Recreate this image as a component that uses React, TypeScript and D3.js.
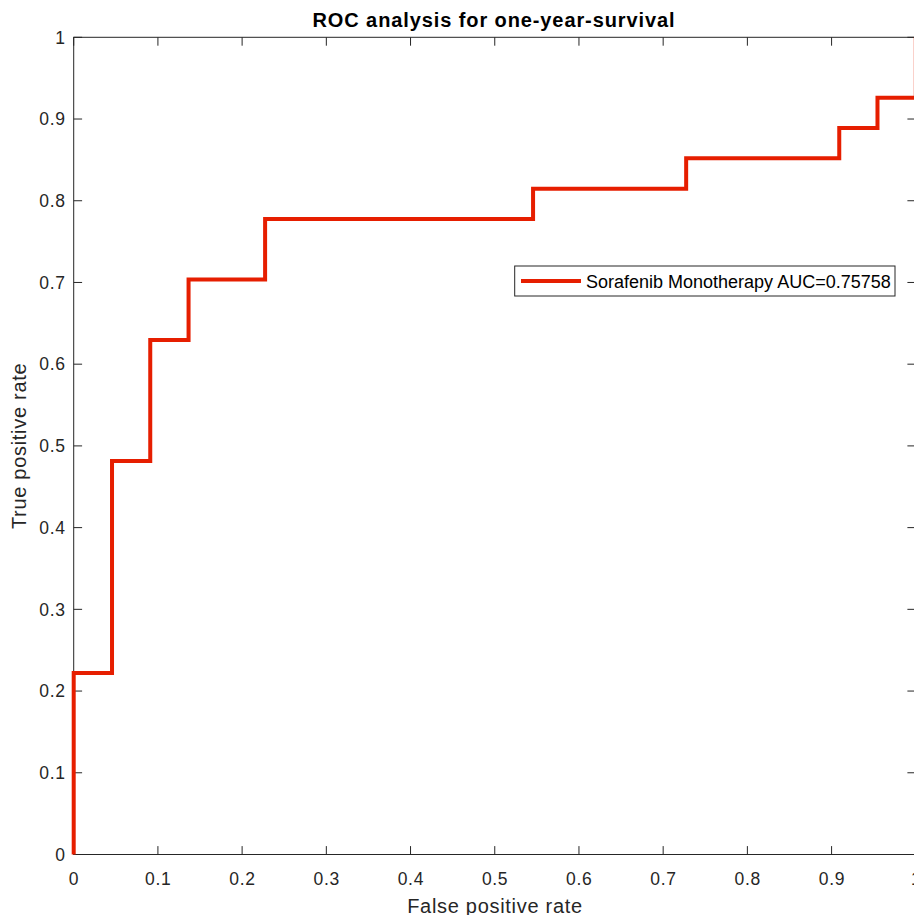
import { useEffect, useRef } from 'react';
import * as d3 from 'd3';

// ROC curve vertices (false positive rate, true positive rate)
const FPR = [0, 0, 0.0455, 0.0455, 0.0909, 0.0909, 0.1364, 0.1364, 0.2273, 0.2273, 0.5455, 0.5455, 0.7273, 0.7273, 0.9091, 0.9091, 0.9545, 0.9545, 1, 1];
const TPR = [0, 0.2222, 0.2222, 0.4815, 0.4815, 0.6296, 0.6296, 0.7037, 0.7037, 0.7778, 0.7778, 0.8148, 0.8148, 0.8519, 0.8519, 0.8889, 0.8889, 0.9259, 0.9259, 1];
const X_TICKS = [0, 0.1, 0.2, 0.3, 0.4, 0.5, 0.6, 0.7, 0.8, 0.9, 1];
const Y_TICKS = [0, 0.1, 0.2, 0.3, 0.4, 0.5, 0.6, 0.7, 0.8, 0.9, 1];
const SERIES_LABEL = 'Sorafenib Monotherapy AUC=0.75758';

const W = 914;
const H = 915;
const FONT = '"Liberation Sans", Arial, Helvetica, sans-serif';
const AXIS = '#262626';
const RED = '#e61e00';

export default function App() {
  const svgRef = useRef<SVGSVGElement>(null);

  useEffect(() => {
    const el = svgRef.current;
    if (!el) return;
    const svg = d3.select(el);
    svg.selectAll('*').remove();

    // axes box runs slightly past the right edge of the window, as in the original
    const left = 73.7, right = 915.8, top = 37.3, bottom = 854.5;
    const x = d3.scaleLinear().domain([0, 1]).range([left, right]);
    const y = d3.scaleLinear().domain([0, 1]).range([bottom, top]);
    const tick = 8.4;

    svg.append('rect')
      .attr('x', left).attr('y', top)
      .attr('width', right - left).attr('height', bottom - top)
      .attr('fill', 'none').attr('stroke', AXIS).attr('stroke-width', 1);

    const g = svg.append('g').attr('stroke', AXIS).attr('stroke-width', 1);
    X_TICKS.forEach((t) => {
      g.append('line').attr('x1', x(t)).attr('x2', x(t)).attr('y1', bottom).attr('y2', bottom - tick);
      g.append('line').attr('x1', x(t)).attr('x2', x(t)).attr('y1', top).attr('y2', top + tick);
    });
    Y_TICKS.forEach((t) => {
      g.append('line').attr('x1', left).attr('x2', left + tick).attr('y1', y(t)).attr('y2', y(t));
      g.append('line').attr('x1', right).attr('x2', right - tick).attr('y1', y(t)).attr('y2', y(t));
    });

    // tick labels
    X_TICKS.forEach((t) => {
      svg.append('text')
        .attr('x', x(t) + 0.35).attr('y', 885)
        .attr('text-anchor', 'middle')
        .attr('font-family', FONT).attr('font-size', 17.5)
        .attr('letter-spacing', 0.7)
        .attr('fill', AXIS)
        .text(d3.format('~g')(t));
    });
    Y_TICKS.forEach((t) => {
      svg.append('text')
        .attr('x', 65.7).attr('y', y(t) + 6.2)
        .attr('text-anchor', 'end')
        .attr('font-family', FONT).attr('font-size', 17.5)
        .attr('letter-spacing', 0.7)
        .attr('fill', AXIS)
        .text(d3.format('~g')(t));
    });

    // axis titles
    svg.append('text')
      .attr('x', 495).attr('y', 913)
      .attr('text-anchor', 'middle')
      .attr('font-family', FONT).attr('font-size', 20)
      .attr('letter-spacing', 0.7)
      .attr('fill', AXIS)
      .text('False positive rate');
    svg.append('text')
      .attr('transform', `translate(25.5,${(top + bottom) / 2}) rotate(-90)`)
      .attr('text-anchor', 'middle')
      .attr('font-family', FONT).attr('font-size', 20)
      .attr('letter-spacing', 0.7)
      .attr('fill', AXIS)
      .text('True positive rate');

    // title
    svg.append('text')
      .attr('x', 494).attr('y', 26.7)
      .attr('text-anchor', 'middle')
      .attr('font-family', FONT).attr('font-size', 20)
      .attr('font-weight', 'bold')
      .attr('letter-spacing', 0.9)
      .attr('fill', '#000')
      .text('ROC analysis for one-year-survival');

    // ROC curve
    const pts: [number, number][] = FPR.map((f, i) => [x(f), y(TPR[i])]);
    svg.append('path')
      .datum(pts)
      .attr('d', d3.line())
      .attr('fill', 'none')
      .attr('stroke', RED)
      .attr('stroke-width', 4)
      .attr('stroke-linejoin', 'miter');

    // legend
    const lg = svg.append('g');
    lg.append('rect')
      .attr('x', 514.7).attr('y', 266)
      .attr('width', 380.3).attr('height', 30)
      .attr('fill', '#fff').attr('stroke', '#262626').attr('stroke-width', 1);
    lg.append('line')
      .attr('x1', 521).attr('x2', 581).attr('y1', 281).attr('y2', 281)
      .attr('stroke', RED).attr('stroke-width', 4);
    lg.append('text')
      .attr('x', 586).attr('y', 287.5)
      .attr('font-family', FONT).attr('font-size', 18)
      .attr('fill', '#000')
      .text(SERIES_LABEL);
  }, []);

  return (
    <svg
      ref={svgRef}
      width={W}
      height={H}
      style={{ position: 'absolute', left: 0, top: 0, background: '#fff' }}
    />
  );
}
